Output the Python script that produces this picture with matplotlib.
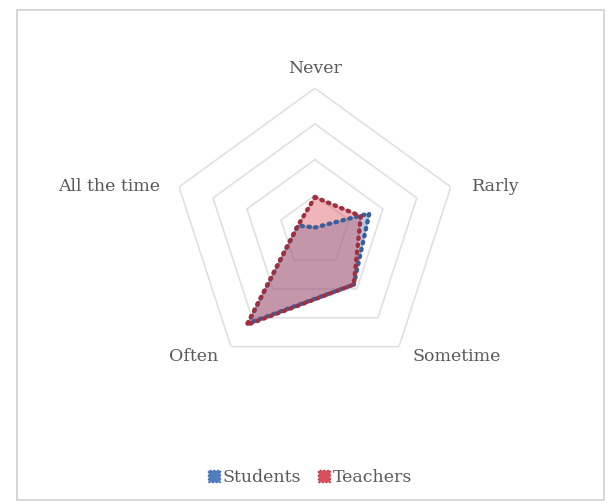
import numpy as np
import matplotlib.pyplot as plt
from matplotlib.patches import Patch

categories = ['Never', 'Rarly', 'Sometime', 'Often', 'All the time']
students = [0.1, 1.6, 1.85, 3.2, 0.5]
teachers = [0.95, 1.35, 1.85, 3.25, 0.5]
rings = [1, 2, 3, 4]

plt.rcParams['font.family'] = ['DejaVu Serif']
txt = '#595959'

fig = plt.figure(figsize=(6.08, 5.04), dpi=100)
fig.patches.append(plt.Rectangle((0.028, 0.008), 0.965, 0.972, transform=fig.transFigure,
                                 fill=False, edgecolor='#d0d0d0', linewidth=1.2))

ax = fig.add_axes([0.283, 0.258, 0.470, 0.567], projection='polar')
ax.set_theta_offset(np.pi / 2)
ax.set_theta_direction(-1)
ax.set_ylim(0, 4)
ax.grid(False)
ax.spines['polar'].set_visible(False)
ax.set_xticks([])
ax.set_yticks([])
ax.patch.set_alpha(0)

n = len(categories)
theta = np.arange(n) * 2 * np.pi / n
theta_c = np.append(theta, theta[0])

for r in rings:
    ax.plot(theta_c, [r] * (n + 1), color='#e0e0e0', lw=1.2, zorder=1)

def series(vals, face, edge):
    v = np.append(vals, vals[0])
    ax.fill(theta_c, v, color=face, alpha=0.42, zorder=2)
    ax.plot(theta_c, v, color=edge, lw=3.2, linestyle=(0, (0.3, 1.3)),
            dash_capstyle='round', zorder=3)

series(students, '#4f7fc0', '#3a5f9a')
series(teachers, '#d9505a', '#a03040')

# label offsets in points from each outer vertex
offsets = [(0, 14, 'center'), (15, 0, 'left'), (10, -7, 'left'), (-9, -7, 'right'), (-14, 0, 'right')]
for t, lab, (dx, dy, ha) in zip(theta, categories, offsets):
    ax.annotate(lab, xy=(t, 4), xytext=(dx, dy), textcoords='offset points',
                ha=ha, va='center', fontsize=12.5, color=txt, annotation_clip=False)

handles = [Patch(facecolor='#4f7fc0', edgecolor='#3a5f9a', linestyle=':', label='Students'),
           Patch(facecolor='#d9505a', edgecolor='#a03040', linestyle=':', label='Teachers')]
fig.legend(handles=handles, loc='center', bbox_to_anchor=(0.51, 0.052), ncol=2, frameon=False,
           fontsize=12.5, labelcolor=txt, handlelength=0.7, handleheight=0.7,
           handletextpad=0.15, columnspacing=1.0)

fig.savefig('out.png', dpi=100)
